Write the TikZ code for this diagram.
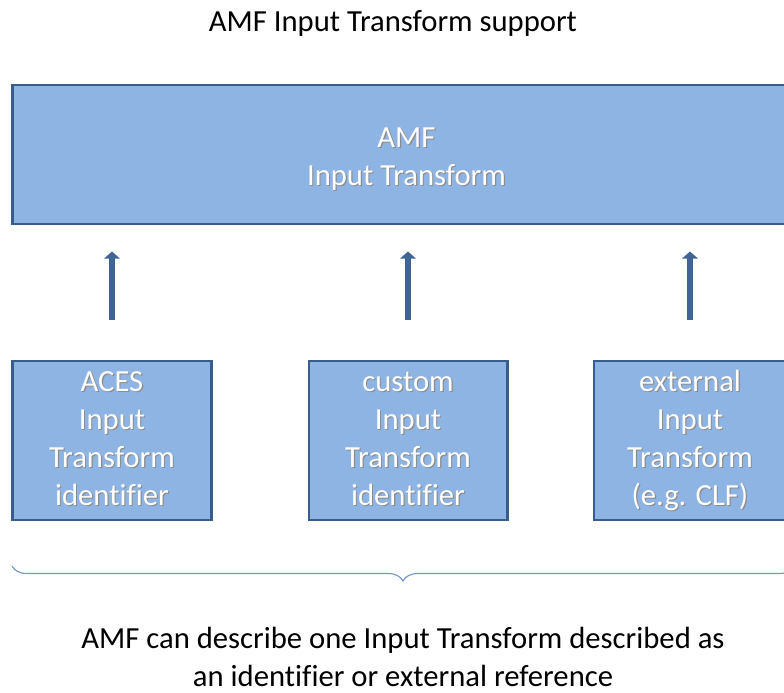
\documentclass[tikz,border=0pt]{standalone}
\usepackage{xcolor}
\usepackage{fontspec}
\setmainfont{Carlito}[Ligatures=NoCommon]
\usepackage{tikz}
\usetikzlibrary{arrows.meta,decorations.pathreplacing}

\definecolor{boxfill}{RGB}{141,180,226}
\definecolor{boxline}{RGB}{56,93,138}
\definecolor{arrowblue}{RGB}{64,100,150}
\definecolor{bracecol}{RGB}{110,150,205}
% white text with a soft shadow below right
\newcommand{\shtxt}[1]{\strut\rlap{\kern0.8pt\raisebox{-0.8pt}{\color{black!45}#1}}{\color{white}#1}}

\begin{document}
\begin{tikzpicture}[x=0.025cm, y=0.025cm,
  bigfont/.style={font=\fontsize{21.8}{27}\selectfont},
  tbox/.style={bigfont, draw=boxline, line width=2.1pt, fill=boxfill,
    align=center, inner sep=0pt},
  smallbox/.style={tbox, minimum width=4.95cm, minimum height=3.975cm},
  flow/.style={arrowblue, line width=4.2pt,
    -{Triangle[width=11pt,length=5pt]},
    shorten <=0.975cm, shorten >=0.65cm}]
\useasboundingbox (0,0) rectangle (784,692);

%% titulo
\node[bigfont] (title) at (393,669) {AMF Input Transform support};

%% caja grande (x1=13 .. x2=800)
\node[tbox, minimum width=19.675cm, minimum height=3.475cm] (amf) at (406.5,537.5) {};
\node[bigfont, align=center] (amftxt) at ([yshift=-0.11cm]amf.center)
  {\shtxt{AMF}\\\shtxt{Input Transform}};

%% las tres cajas de abajo
\node[smallbox] (aces) at (112,251.5)
  {\shtxt{ACES}\\\shtxt{Input}\\\shtxt{Transform}\\\shtxt{identifier}};
\node[smallbox] (custom) at (408,251.5)
  {\shtxt{custom}\\\shtxt{Input}\\\shtxt{Transform}\\\shtxt{identifier}};
\node[smallbox, minimum width=4.8cm] (extern) at (690,251.5)
  {\shtxt{external}\\\shtxt{Input}\\\shtxt{Transform}\\\shtxt{(e.g. CLF)}};

%% flechas hacia arriba
\foreach \iB in {aces,custom,extern}{
\draw[flow] (\iB.north) -- (\iB.north |- amf.south);
}

%% llave
\coordinate (brR) at (794,126);
\coordinate (brL) at (12,126);
\draw[bracecol, line width=0.8pt,
  decorate, decoration={brace, amplitude=0.375cm}] (brR) -- (brL);

%% texto de abajo
\node[bigfont, align=center] (note) at (403,35.5)
  {AMF can describe one Input Transform described as\\an identifier or external reference};
\end{tikzpicture}
\end{document}
